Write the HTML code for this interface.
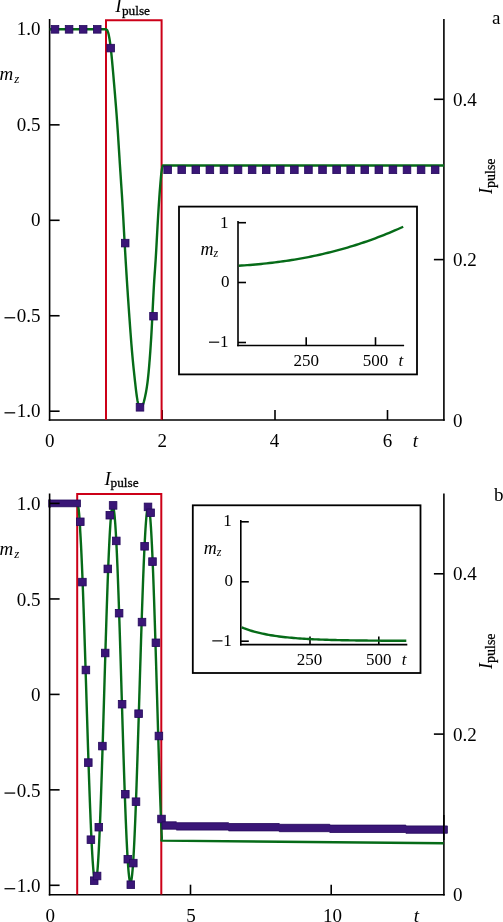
<!DOCTYPE html>
<html><head><meta charset="utf-8"><style>
html,body{margin:0;padding:0;background:#fff;width:503px;height:922px;overflow:hidden}
svg{display:block;will-change:transform}
text{font-family:"Liberation Serif",serif;fill:#000}
</style></head><body>
<svg width="503" height="922" viewBox="0 0 503 922">
<line x1="49.60" y1="19.00" x2="49.60" y2="420.80" stroke="#000" stroke-width="1.6"/>
<line x1="48.80" y1="420.00" x2="444.70" y2="420.00" stroke="#000" stroke-width="1.6"/>
<line x1="443.90" y1="19.00" x2="443.90" y2="420.80" stroke="#000" stroke-width="1.6"/>
<line x1="49.60" y1="29.40" x2="59.60" y2="29.40" stroke="#000" stroke-width="1.6"/>
<line x1="49.60" y1="124.85" x2="59.60" y2="124.85" stroke="#000" stroke-width="1.6"/>
<line x1="49.60" y1="220.30" x2="59.60" y2="220.30" stroke="#000" stroke-width="1.6"/>
<line x1="49.60" y1="315.75" x2="59.60" y2="315.75" stroke="#000" stroke-width="1.6"/>
<line x1="49.60" y1="411.20" x2="59.60" y2="411.20" stroke="#000" stroke-width="1.6"/>
<line x1="433.90" y1="99.30" x2="443.90" y2="99.30" stroke="#000" stroke-width="1.6"/>
<line x1="433.90" y1="259.60" x2="443.90" y2="259.60" stroke="#000" stroke-width="1.6"/>
<line x1="162.20" y1="410.00" x2="162.20" y2="420.00" stroke="#000" stroke-width="1.6"/>
<line x1="275.00" y1="410.00" x2="275.00" y2="420.00" stroke="#000" stroke-width="1.6"/>
<line x1="387.50" y1="410.00" x2="387.50" y2="420.00" stroke="#000" stroke-width="1.6"/>
<path d="M106,419.8 L106,20.3 L161.6,20.3 L161.6,419.8" fill="none" stroke="#cc0018" stroke-width="2"/>
<path d="M49.60,29.20 L105.50,29.20 L106.00,29.40 L106.28,29.54 L106.56,29.67 L106.85,29.88 L107.13,30.21 L107.41,30.70 L107.69,31.31 L107.97,32.06 L108.26,32.96 L108.54,34.02 L108.82,35.24 L109.10,36.64 L109.38,38.20 L109.66,39.91 L109.95,41.79 L110.23,43.82 L110.51,46.01 L110.79,48.35 L111.07,50.85 L111.36,53.51 L111.64,56.32 L111.92,59.26 L112.20,62.29 L112.48,65.39 L112.77,68.55 L113.05,71.76 L113.33,75.02 L113.61,78.31 L113.89,81.63 L114.18,84.94 L114.46,88.23 L114.74,91.58 L115.02,94.97 L115.30,98.39 L115.58,101.85 L115.87,105.34 L116.15,108.89 L116.43,112.51 L116.71,116.25 L116.99,120.09 L117.28,124.03 L117.56,128.09 L117.84,132.25 L118.12,136.52 L118.40,140.89 L118.69,145.34 L118.97,149.83 L119.25,154.32 L119.53,158.78 L119.81,163.21 L120.10,167.59 L120.38,171.92 L120.66,176.20 L120.94,180.43 L121.22,184.61 L121.51,188.74 L121.79,193.00 L122.07,197.42 L122.35,202.00 L122.63,206.74 L122.91,211.63 L123.20,216.68 L123.48,221.78 L123.76,226.91 L124.04,232.10 L124.32,237.21 L124.61,242.25 L124.89,247.20 L125.17,252.07 L125.45,256.86 L125.73,261.57 L126.02,266.24 L126.30,270.85 L126.58,275.39 L126.86,279.87 L127.14,284.28 L127.43,288.62 L127.71,292.89 L127.99,297.08 L128.27,301.20 L128.55,305.25 L128.83,309.29 L129.12,313.29 L129.40,317.27 L129.68,321.21 L129.96,325.10 L130.24,328.96 L130.53,332.77 L130.81,336.53 L131.09,340.19 L131.37,343.75 L131.65,347.21 L131.94,350.57 L132.22,353.82 L132.50,356.96 L132.78,360.00 L133.06,362.94 L133.35,365.78 L133.63,368.54 L133.91,371.22 L134.19,373.84 L134.47,376.46 L134.75,379.06 L135.04,381.63 L135.32,384.16 L135.60,386.64 L135.88,389.05 L136.16,391.39 L136.45,393.62 L136.73,395.73 L137.01,397.66 L137.29,399.43 L137.57,401.04 L137.86,402.48 L138.14,403.76 L138.42,404.87 L138.70,405.83 L138.98,406.64 L139.27,407.28 L139.55,407.76 L139.83,408.09 L140.11,408.27 L140.39,408.34 L140.67,408.28 L140.96,408.13 L141.24,407.88 L141.52,407.55 L141.80,407.15 L142.08,406.67 L142.37,406.10 L142.65,405.45 L142.93,404.72 L143.21,403.90 L143.49,403.01 L143.78,402.05 L144.06,401.01 L144.34,399.90 L144.62,398.73 L144.90,397.49 L145.19,396.19 L145.47,394.82 L145.75,393.40 L146.03,391.91 L146.31,390.35 L146.59,388.70 L146.88,386.90 L147.16,384.94 L147.44,382.83 L147.72,380.54 L148.00,378.07 L148.29,375.42 L148.57,372.57 L148.85,369.51 L149.13,366.29 L149.41,362.92 L149.70,359.39 L149.98,355.68 L150.26,351.79 L150.54,347.73 L150.82,343.49 L151.11,339.06 L151.39,334.36 L151.67,329.33 L151.95,324.00 L152.23,318.41 L152.52,312.60 L152.80,306.90 L153.08,301.32 L153.36,295.88 L153.64,290.60 L153.92,285.60 L154.21,280.94 L154.49,276.63 L154.77,272.63 L155.05,268.73 L155.33,264.61 L155.62,260.25 L155.90,255.67 L156.18,250.86 L156.46,245.81 L156.74,240.64 L157.03,235.41 L157.31,230.19 L157.59,225.14 L157.87,220.25 L158.15,215.45 L158.44,210.83 L158.72,206.39 L159.00,202.13 L159.28,198.09 L159.56,194.18 L159.84,190.42 L160.13,186.81 L160.41,183.33 L160.69,180.00 L160.97,176.81 L161.25,174.09 L161.54,171.82 L161.82,169.88 L162.10,168.27 L162.80,165.50 L444.00,165.50" fill="none" stroke="#066b18" stroke-width="2.4" stroke-linejoin="round" stroke-linecap="butt" />
<rect x="51.20" y="25.55" width="7.6" height="7.6" fill="#3a1677" stroke="#24095c" stroke-width="0.8"/>
<rect x="65.28" y="25.55" width="7.6" height="7.6" fill="#3a1677" stroke="#24095c" stroke-width="0.8"/>
<rect x="79.36" y="25.55" width="7.6" height="7.6" fill="#3a1677" stroke="#24095c" stroke-width="0.8"/>
<rect x="93.44" y="25.55" width="7.6" height="7.6" fill="#3a1677" stroke="#24095c" stroke-width="0.8"/>
<rect x="106.90" y="44.30" width="7.6" height="7.6" fill="#3a1677" stroke="#24095c" stroke-width="0.8"/>
<rect x="121.40" y="239.30" width="7.6" height="7.6" fill="#3a1677" stroke="#24095c" stroke-width="0.8"/>
<rect x="136.20" y="403.50" width="7.6" height="7.6" fill="#3a1677" stroke="#24095c" stroke-width="0.8"/>
<rect x="149.70" y="312.40" width="7.6" height="7.6" fill="#3a1677" stroke="#24095c" stroke-width="0.8"/>
<rect x="163.84" y="166.00" width="7.6" height="7.6" fill="#3a1677" stroke="#24095c" stroke-width="0.8"/>
<rect x="177.92" y="166.00" width="7.6" height="7.6" fill="#3a1677" stroke="#24095c" stroke-width="0.8"/>
<rect x="192.00" y="166.00" width="7.6" height="7.6" fill="#3a1677" stroke="#24095c" stroke-width="0.8"/>
<rect x="206.08" y="166.00" width="7.6" height="7.6" fill="#3a1677" stroke="#24095c" stroke-width="0.8"/>
<rect x="220.16" y="166.00" width="7.6" height="7.6" fill="#3a1677" stroke="#24095c" stroke-width="0.8"/>
<rect x="234.24" y="166.00" width="7.6" height="7.6" fill="#3a1677" stroke="#24095c" stroke-width="0.8"/>
<rect x="248.32" y="166.00" width="7.6" height="7.6" fill="#3a1677" stroke="#24095c" stroke-width="0.8"/>
<rect x="262.40" y="166.00" width="7.6" height="7.6" fill="#3a1677" stroke="#24095c" stroke-width="0.8"/>
<rect x="276.48" y="166.00" width="7.6" height="7.6" fill="#3a1677" stroke="#24095c" stroke-width="0.8"/>
<rect x="290.56" y="166.00" width="7.6" height="7.6" fill="#3a1677" stroke="#24095c" stroke-width="0.8"/>
<rect x="304.64" y="166.00" width="7.6" height="7.6" fill="#3a1677" stroke="#24095c" stroke-width="0.8"/>
<rect x="318.72" y="166.00" width="7.6" height="7.6" fill="#3a1677" stroke="#24095c" stroke-width="0.8"/>
<rect x="332.80" y="166.00" width="7.6" height="7.6" fill="#3a1677" stroke="#24095c" stroke-width="0.8"/>
<rect x="346.88" y="166.00" width="7.6" height="7.6" fill="#3a1677" stroke="#24095c" stroke-width="0.8"/>
<rect x="360.96" y="166.00" width="7.6" height="7.6" fill="#3a1677" stroke="#24095c" stroke-width="0.8"/>
<rect x="375.04" y="166.00" width="7.6" height="7.6" fill="#3a1677" stroke="#24095c" stroke-width="0.8"/>
<rect x="389.12" y="166.00" width="7.6" height="7.6" fill="#3a1677" stroke="#24095c" stroke-width="0.8"/>
<rect x="403.20" y="166.00" width="7.6" height="7.6" fill="#3a1677" stroke="#24095c" stroke-width="0.8"/>
<rect x="417.28" y="166.00" width="7.6" height="7.6" fill="#3a1677" stroke="#24095c" stroke-width="0.8"/>
<rect x="431.36" y="166.00" width="7.6" height="7.6" fill="#3a1677" stroke="#24095c" stroke-width="0.8"/>
<rect x="179.0" y="206.6" width="238.0" height="167.8" fill="#fff" stroke="#000" stroke-width="1.8"/>
<line x1="238.00" y1="221.00" x2="238.00" y2="346.30" stroke="#000" stroke-width="1.6"/>
<line x1="237.20" y1="345.50" x2="404.10" y2="345.50" stroke="#000" stroke-width="1.6"/>
<line x1="238.00" y1="222.70" x2="246.00" y2="222.70" stroke="#000" stroke-width="1.6"/>
<line x1="238.00" y1="282.50" x2="246.00" y2="282.50" stroke="#000" stroke-width="1.6"/>
<line x1="238.00" y1="342.50" x2="246.00" y2="342.50" stroke="#000" stroke-width="1.6"/>
<line x1="306.20" y1="337.20" x2="306.20" y2="345.50" stroke="#000" stroke-width="1.6"/>
<line x1="375.50" y1="337.20" x2="375.50" y2="345.50" stroke="#000" stroke-width="1.6"/>
<path d="M238.80,265.71 L241.59,265.53 L244.37,265.35 L247.16,265.15 L249.95,264.94 L252.73,264.71 L255.52,264.47 L258.31,264.22 L261.09,263.95 L263.88,263.67 L266.66,263.37 L269.45,263.06 L272.24,262.74 L275.02,262.40 L277.81,262.04 L280.60,261.67 L283.38,261.28 L286.17,260.88 L288.96,260.46 L291.74,260.03 L294.53,259.57 L297.32,259.10 L300.10,258.62 L302.89,258.12 L305.67,257.59 L308.46,257.06 L311.25,256.50 L314.03,255.93 L316.82,255.33 L319.61,254.72 L322.39,254.09 L325.18,253.44 L327.97,252.78 L330.75,252.09 L333.54,251.38 L336.33,250.66 L339.11,249.91 L341.90,249.14 L344.68,248.36 L347.47,247.55 L350.26,246.72 L353.04,245.87 L355.83,245.00 L358.62,244.11 L361.40,243.19 L364.19,242.25 L366.98,241.30 L369.76,240.32 L372.55,239.31 L375.34,238.29 L378.12,237.24 L380.91,236.17 L383.69,235.07 L386.48,233.95 L389.27,232.81 L392.05,231.64 L394.84,230.45 L397.63,229.23 L400.41,227.99 L403.20,226.73" fill="none" stroke="#066b18" stroke-width="2.4" stroke-linejoin="round" stroke-linecap="butt" />
<line x1="49.60" y1="493.50" x2="49.60" y2="895.50" stroke="#000" stroke-width="1.6"/>
<line x1="48.80" y1="894.70" x2="444.70" y2="894.70" stroke="#000" stroke-width="1.6"/>
<line x1="443.90" y1="493.50" x2="443.90" y2="895.50" stroke="#000" stroke-width="1.6"/>
<line x1="49.60" y1="503.50" x2="59.60" y2="503.50" stroke="#000" stroke-width="1.6"/>
<line x1="49.60" y1="598.95" x2="59.60" y2="598.95" stroke="#000" stroke-width="1.6"/>
<line x1="49.60" y1="694.40" x2="59.60" y2="694.40" stroke="#000" stroke-width="1.6"/>
<line x1="49.60" y1="789.85" x2="59.60" y2="789.85" stroke="#000" stroke-width="1.6"/>
<line x1="49.60" y1="885.30" x2="59.60" y2="885.30" stroke="#000" stroke-width="1.6"/>
<line x1="433.90" y1="573.80" x2="443.90" y2="573.80" stroke="#000" stroke-width="1.6"/>
<line x1="433.90" y1="734.10" x2="443.90" y2="734.10" stroke="#000" stroke-width="1.6"/>
<line x1="190.50" y1="884.70" x2="190.50" y2="894.70" stroke="#000" stroke-width="1.6"/>
<line x1="331.20" y1="884.70" x2="331.20" y2="894.70" stroke="#000" stroke-width="1.6"/>
<path d="M77.2,894.6 L77.2,493.9 L161.3,493.9 L161.3,894.6" fill="none" stroke="#cc0018" stroke-width="2"/>
<path d="M49.60,503.50 L77.20,503.50 L77.20,503.50 L77.41,503.63 L77.62,504.01 L77.84,504.64 L78.05,505.52 L78.26,506.65 L78.47,508.03 L78.68,509.66 L78.90,511.54 L79.11,513.65 L79.32,516.01 L79.53,518.60 L79.74,521.42 L79.96,524.48 L80.17,530.25 L80.38,533.70 L80.59,537.36 L80.80,541.23 L81.02,545.30 L81.23,549.57 L81.44,554.03 L81.65,558.67 L81.86,563.50 L82.08,568.50 L82.29,573.67 L82.50,578.99 L82.71,584.47 L82.92,590.10 L83.14,595.86 L83.35,601.75 L83.56,607.77 L83.77,613.90 L83.98,620.14 L84.20,626.47 L84.41,632.90 L84.62,639.40 L84.83,645.98 L85.05,652.63 L85.26,659.33 L85.47,666.07 L85.68,672.86 L85.89,679.67 L86.11,686.50 L86.32,693.34 L86.53,700.19 L86.74,707.02 L86.95,713.84 L87.17,720.64 L87.38,727.39 L87.59,734.11 L87.80,740.77 L88.01,747.37 L88.23,753.90 L88.44,760.36 L88.65,766.72 L88.86,772.99 L89.07,779.15 L89.29,785.21 L89.50,791.14 L89.71,796.94 L89.92,802.61 L90.13,808.13 L90.35,813.51 L90.56,818.72 L90.77,823.78 L90.98,828.66 L91.19,833.36 L91.41,837.88 L91.62,842.20 L91.83,846.34 L92.04,850.27 L92.25,853.99 L92.47,857.50 L92.68,860.80 L92.89,863.88 L93.10,866.73 L93.31,869.35 L93.53,871.75 L93.74,873.90 L93.95,875.82 L94.16,877.50 L94.37,878.94 L94.59,880.13 L94.80,881.07 L95.01,881.77 L95.22,882.22 L95.43,882.42 L95.65,882.37 L95.86,882.04 L96.07,881.43 L96.28,880.54 L96.49,879.38 L96.71,877.94 L96.92,876.23 L97.13,874.25 L97.34,872.01 L97.55,869.50 L97.77,866.73 L97.98,863.70 L98.19,860.43 L98.40,856.91 L98.62,853.15 L98.83,849.15 L99.04,844.92 L99.25,840.47 L99.46,835.81 L99.68,830.93 L99.89,825.85 L100.10,820.58 L100.31,815.12 L100.52,809.48 L100.74,803.67 L100.95,797.70 L101.16,791.57 L101.37,785.30 L101.58,778.90 L101.80,772.37 L102.01,765.73 L102.22,758.98 L102.43,752.13 L102.64,745.20 L102.86,738.19 L103.07,731.12 L103.28,723.99 L103.49,716.82 L103.70,709.62 L103.92,702.40 L104.13,695.16 L104.34,687.92 L104.55,680.69 L104.76,673.48 L104.98,666.30 L105.19,659.17 L105.40,652.08 L105.61,645.06 L105.82,638.11 L106.04,631.25 L106.25,624.48 L106.46,617.81 L106.67,611.26 L106.88,604.83 L107.10,598.53 L107.31,592.37 L107.52,586.37 L107.73,580.52 L107.94,574.85 L108.16,569.35 L108.37,564.04 L108.58,558.92 L108.79,554.00 L109.00,549.29 L109.22,544.79 L109.43,540.52 L109.64,536.47 L109.85,532.66 L110.06,529.09 L110.28,525.76 L110.49,522.68 L110.70,519.86 L110.91,517.30 L111.12,515.00 L111.34,512.96 L111.55,511.20 L111.76,509.70 L111.97,508.48 L112.18,507.54 L112.40,506.87 L112.61,506.48 L112.82,506.36 L113.03,506.52 L113.25,506.95 L113.46,507.64 L113.67,508.60 L113.88,509.82 L114.09,511.30 L114.31,513.03 L114.52,515.03 L114.73,517.28 L114.94,519.78 L115.15,522.53 L115.37,525.52 L115.58,528.75 L115.79,532.22 L116.00,535.91 L116.21,539.83 L116.43,543.97 L116.64,548.32 L116.85,552.88 L117.06,557.64 L117.27,562.59 L117.49,567.73 L117.70,573.05 L117.91,578.54 L118.12,584.19 L118.33,590.00 L118.55,595.96 L118.76,602.06 L118.97,608.29 L119.18,614.64 L119.39,621.10 L119.61,627.67 L119.82,634.33 L120.03,641.08 L120.24,647.90 L120.45,654.79 L120.67,661.73 L120.88,668.72 L121.09,675.75 L121.30,682.80 L121.51,689.87 L121.73,696.95 L121.94,704.02 L122.15,711.08 L122.36,718.11 L122.57,725.11 L122.79,732.07 L123.00,738.98 L123.21,745.82 L123.42,752.59 L123.63,759.27 L123.85,765.87 L124.06,772.36 L124.27,778.74 L124.48,785.01 L124.69,791.14 L124.91,797.14 L125.12,802.99 L125.33,808.69 L125.54,814.23 L125.75,819.60 L125.97,824.79 L126.18,829.79 L126.39,834.61 L126.60,839.22 L126.82,843.63 L127.03,847.83 L127.24,851.81 L127.45,855.57 L127.66,859.10 L127.88,862.40 L128.09,865.46 L128.30,868.27 L128.51,870.84 L128.72,873.16 L128.94,875.23 L129.15,877.04 L129.36,878.60 L129.57,879.89 L129.78,880.92 L130.00,881.68 L130.21,882.18 L130.42,882.42 L130.63,882.39 L130.84,882.09 L131.06,881.53 L131.27,880.71 L131.48,879.63 L131.69,878.29 L131.90,876.69 L132.12,874.84 L132.33,872.74 L132.54,870.38 L132.75,867.78 L132.96,864.94 L133.18,861.85 L133.39,858.53 L133.60,854.99 L133.81,851.21 L134.02,847.22 L134.24,843.02 L134.45,838.60 L134.66,833.99 L134.87,829.18 L135.08,824.18 L135.30,818.99 L135.51,813.64 L135.72,808.11 L135.93,802.43 L136.14,796.60 L136.36,790.62 L136.57,784.51 L136.78,778.27 L136.99,771.92 L137.20,765.45 L137.42,758.89 L137.63,752.24 L137.84,745.50 L138.05,738.70 L138.26,731.83 L138.48,724.91 L138.69,717.94 L138.90,710.95 L139.11,703.93 L139.32,696.90 L139.54,689.86 L139.75,682.83 L139.96,675.82 L140.17,668.83 L140.38,661.88 L140.60,654.97 L140.81,648.12 L141.02,641.33 L141.23,634.62 L141.45,627.99 L141.66,621.46 L141.87,615.02 L142.08,608.70 L142.29,602.50 L142.51,596.43 L142.72,590.49 L142.93,584.70 L143.14,579.06 L143.35,573.59 L143.57,568.28 L143.78,563.15 L143.99,558.21 L144.20,553.45 L144.41,548.89 L144.63,544.54 L144.84,540.39 L145.05,536.47 L145.26,532.76 L145.47,529.28 L145.69,526.03 L145.90,523.01 L146.11,520.24 L146.32,517.71 L146.53,515.43 L146.75,513.39 L146.96,511.61 L147.17,510.09 L147.38,508.83 L147.59,507.82 L147.81,507.08 L148.02,506.60 L148.23,506.38 L148.44,506.43 L148.65,506.75 L148.87,507.35 L149.08,508.22 L149.29,509.37 L149.50,510.79 L149.71,512.47 L149.93,514.43 L150.14,516.65 L150.35,519.13 L150.56,521.87 L150.77,524.86 L150.99,528.10 L151.20,531.58 L151.41,535.31 L151.62,539.26 L151.83,543.45 L152.05,547.85 L152.26,552.48 L152.47,557.31 L152.68,562.34 L152.89,567.56 L153.11,572.97 L153.32,578.56 L153.53,584.32 L153.74,590.25 L153.95,596.32 L154.17,602.54 L154.38,608.89 L154.59,615.37 L154.80,621.97 L155.02,628.67 L155.23,635.47 L155.44,642.35 L155.65,649.31 L155.86,656.34 L156.08,663.42 L156.29,670.55 L156.50,677.71 L156.71,684.90 L156.92,692.10 L157.14,699.31 L157.35,706.51 L157.56,713.69 L157.77,720.84 L157.98,727.95 L158.20,735.02 L158.41,742.02 L158.62,748.96 L158.83,755.81 L159.04,762.57 L159.26,769.24 L159.47,775.79 L159.68,782.23 L159.89,788.53 L160.10,794.70 L160.32,800.72 L160.53,806.58 L160.74,812.28 L160.95,817.81 L161.16,823.15 L161.38,828.31 L161.59,833.27 L161.80,838.03 L161.50,840.60 L443.60,843.20" fill="none" stroke="#066b18" stroke-width="2.4" stroke-linejoin="round" stroke-linecap="butt" />
<rect x="48.8" y="500.0" width="31.6" height="6.8" fill="#3a1677" stroke="#24095c" stroke-width="0.8"/>
<line x1="49.60" y1="499.00" x2="49.60" y2="508.00" stroke="#000" stroke-width="1.6"/>
<line x1="49.60" y1="503.40" x2="59.60" y2="503.40" stroke="#000" stroke-width="1.6"/>
<rect x="76.50" y="518.00" width="7.6" height="7.6" fill="#3a1677" stroke="#24095c" stroke-width="0.8"/>
<rect x="78.60" y="578.30" width="7.6" height="7.6" fill="#3a1677" stroke="#24095c" stroke-width="0.8"/>
<rect x="82.10" y="666.20" width="7.6" height="7.6" fill="#3a1677" stroke="#24095c" stroke-width="0.8"/>
<rect x="84.50" y="758.80" width="7.6" height="7.6" fill="#3a1677" stroke="#24095c" stroke-width="0.8"/>
<rect x="87.10" y="835.90" width="7.6" height="7.6" fill="#3a1677" stroke="#24095c" stroke-width="0.8"/>
<rect x="90.40" y="876.90" width="7.6" height="7.6" fill="#3a1677" stroke="#24095c" stroke-width="0.8"/>
<rect x="93.30" y="872.20" width="7.6" height="7.6" fill="#3a1677" stroke="#24095c" stroke-width="0.8"/>
<rect x="95.00" y="823.40" width="7.6" height="7.6" fill="#3a1677" stroke="#24095c" stroke-width="0.8"/>
<rect x="98.60" y="742.30" width="7.6" height="7.6" fill="#3a1677" stroke="#24095c" stroke-width="0.8"/>
<rect x="101.40" y="649.20" width="7.6" height="7.6" fill="#3a1677" stroke="#24095c" stroke-width="0.8"/>
<rect x="104.00" y="565.10" width="7.6" height="7.6" fill="#3a1677" stroke="#24095c" stroke-width="0.8"/>
<rect x="106.00" y="511.40" width="7.6" height="7.6" fill="#3a1677" stroke="#24095c" stroke-width="0.8"/>
<rect x="109.30" y="501.60" width="7.6" height="7.6" fill="#3a1677" stroke="#24095c" stroke-width="0.8"/>
<rect x="112.50" y="537.10" width="7.6" height="7.6" fill="#3a1677" stroke="#24095c" stroke-width="0.8"/>
<rect x="115.30" y="609.40" width="7.6" height="7.6" fill="#3a1677" stroke="#24095c" stroke-width="0.8"/>
<rect x="118.30" y="700.40" width="7.6" height="7.6" fill="#3a1677" stroke="#24095c" stroke-width="0.8"/>
<rect x="121.50" y="790.40" width="7.6" height="7.6" fill="#3a1677" stroke="#24095c" stroke-width="0.8"/>
<rect x="124.00" y="855.40" width="7.6" height="7.6" fill="#3a1677" stroke="#24095c" stroke-width="0.8"/>
<rect x="127.00" y="880.90" width="7.6" height="7.6" fill="#3a1677" stroke="#24095c" stroke-width="0.8"/>
<rect x="129.50" y="859.30" width="7.6" height="7.6" fill="#3a1677" stroke="#24095c" stroke-width="0.8"/>
<rect x="132.20" y="797.90" width="7.6" height="7.6" fill="#3a1677" stroke="#24095c" stroke-width="0.8"/>
<rect x="134.80" y="709.90" width="7.6" height="7.6" fill="#3a1677" stroke="#24095c" stroke-width="0.8"/>
<rect x="138.20" y="618.30" width="7.6" height="7.6" fill="#3a1677" stroke="#24095c" stroke-width="0.8"/>
<rect x="140.80" y="542.50" width="7.6" height="7.6" fill="#3a1677" stroke="#24095c" stroke-width="0.8"/>
<rect x="144.20" y="503.10" width="7.6" height="7.6" fill="#3a1677" stroke="#24095c" stroke-width="0.8"/>
<rect x="146.80" y="509.00" width="7.6" height="7.6" fill="#3a1677" stroke="#24095c" stroke-width="0.8"/>
<rect x="148.70" y="557.80" width="7.6" height="7.6" fill="#3a1677" stroke="#24095c" stroke-width="0.8"/>
<rect x="152.10" y="639.00" width="7.6" height="7.6" fill="#3a1677" stroke="#24095c" stroke-width="0.8"/>
<rect x="155.10" y="732.20" width="7.6" height="7.6" fill="#3a1677" stroke="#24095c" stroke-width="0.8"/>
<rect x="157.70" y="815.20" width="7.6" height="7.6" fill="#3a1677" stroke="#24095c" stroke-width="0.8"/>
<path d="M161.9,821.8 L161.9,821.8 L176.4,821.8 L176.4,822.7 L228.6,822.7 L228.6,823.5 L279.3,823.5 L279.3,824.3 L329.8,824.3 L329.8,825.1 L405.9,825.1 L405.9,825.9 L447.4,825.9 L447.4,833.3 L405.9,833.3 L405.9,832.5 L329.8,832.5 L329.8,831.7 L279.3,831.7 L279.3,830.9 L228.6,830.9 L228.6,830.1 L176.4,830.1 L176.4,829.2 L161.9,829.2 Z" fill="#3a1677" stroke="#24095c" stroke-width="0.8"/>
<line x1="443.80" y1="815.00" x2="443.80" y2="840.00" stroke="#000" stroke-width="1.6"/>
<rect x="192.8" y="505.3" width="227.7" height="167.7" fill="#fff" stroke="#000" stroke-width="1.8"/>
<line x1="240.80" y1="520.00" x2="240.80" y2="645.40" stroke="#000" stroke-width="1.6"/>
<line x1="240.00" y1="644.60" x2="407.30" y2="644.60" stroke="#000" stroke-width="1.6"/>
<line x1="240.80" y1="521.80" x2="248.80" y2="521.80" stroke="#000" stroke-width="1.6"/>
<line x1="240.80" y1="581.80" x2="248.80" y2="581.80" stroke="#000" stroke-width="1.6"/>
<line x1="240.80" y1="641.20" x2="248.80" y2="641.20" stroke="#000" stroke-width="1.6"/>
<line x1="310.00" y1="636.40" x2="310.00" y2="644.60" stroke="#000" stroke-width="1.6"/>
<line x1="378.80" y1="636.40" x2="378.80" y2="644.60" stroke="#000" stroke-width="1.6"/>
<path d="M241.60,627.44 L243.68,628.24 L245.77,628.99 L247.85,629.70 L249.94,630.37 L252.02,630.99 L254.11,631.58 L256.19,632.14 L258.28,632.66 L260.36,633.15 L262.45,633.61 L264.53,634.04 L266.62,634.45 L268.70,634.83 L270.79,635.20 L272.87,635.53 L274.96,635.85 L277.04,636.15 L279.13,636.44 L281.21,636.70 L283.30,636.95 L285.38,637.19 L287.47,637.41 L289.55,637.61 L291.64,637.81 L293.72,637.99 L295.81,638.17 L297.89,638.33 L299.97,638.48 L302.06,638.63 L304.14,638.76 L306.23,638.89 L308.31,639.01 L310.40,639.12 L312.48,639.23 L314.57,639.33 L316.65,639.42 L318.74,639.51 L320.82,639.59 L322.91,639.67 L324.99,639.74 L327.08,639.81 L329.16,639.88 L331.25,639.94 L333.33,639.99 L335.42,640.05 L337.50,640.10 L339.59,640.15 L341.67,640.19 L343.76,640.23 L345.84,640.27 L347.93,640.31 L350.01,640.34 L352.09,640.38 L354.18,640.41 L356.26,640.44 L358.35,640.47 L360.43,640.49 L362.52,640.52 L364.60,640.54 L366.69,640.56 L368.77,640.58 L370.86,640.60 L372.94,640.62 L375.03,640.63 L377.11,640.65 L379.20,640.66 L381.28,640.68 L383.37,640.69 L385.45,640.70 L387.54,640.72 L389.62,640.73 L391.71,640.74 L393.79,640.75 L395.88,640.76 L397.96,640.76 L400.05,640.77 L402.13,640.78 L404.22,640.79 L406.30,640.79" fill="none" stroke="#066b18" stroke-width="2.4" stroke-linejoin="round" stroke-linecap="butt" />
<text x="40.60" y="34.90" font-size="19" text-anchor="end" >1.0</text>
<text x="40.60" y="509.50" font-size="19" text-anchor="end" >1.0</text>
<text x="40.60" y="131.05" font-size="19" text-anchor="end" >0.5</text>
<text x="40.60" y="605.75" font-size="19" text-anchor="end" >0.5</text>
<text x="40.60" y="225.90" font-size="19" text-anchor="end" >0</text>
<text x="40.60" y="701.20" font-size="19" text-anchor="end" >0</text>
<rect x="4.5" y="317.15" width="10.7" height="1.25" fill="#000"/>
<text x="40.60" y="321.95" font-size="19" text-anchor="end" >0.5</text>
<rect x="4.5" y="792.45" width="10.7" height="1.25" fill="#000"/>
<text x="40.60" y="796.65" font-size="19" text-anchor="end" >0.5</text>
<rect x="4.5" y="412.20" width="10.7" height="1.25" fill="#000"/>
<text x="40.60" y="417.00" font-size="19" text-anchor="end" >1.0</text>
<rect x="4.5" y="888.10" width="10.7" height="1.25" fill="#000"/>
<text x="40.60" y="892.30" font-size="19" text-anchor="end" >1.0</text>
<text x="49.80" y="447.00" font-size="19" text-anchor="middle" >0</text>
<text x="162.20" y="447.00" font-size="19" text-anchor="middle" >2</text>
<text x="274.60" y="447.00" font-size="19" text-anchor="middle" >4</text>
<text x="387.50" y="447.00" font-size="19" text-anchor="middle" >6</text>
<text x="415.30" y="447.00" font-size="19" text-anchor="middle" font-style="italic" >t</text>
<text x="50.30" y="921.50" font-size="19" text-anchor="middle" >0</text>
<text x="190.90" y="921.50" font-size="19" text-anchor="middle" >5</text>
<text x="332.50" y="921.50" font-size="19" text-anchor="middle" >10</text>
<text x="416.50" y="921.50" font-size="19" text-anchor="middle" font-style="italic" >t</text>
<text x="453.00" y="105.80" font-size="19" text-anchor="start" >0.4</text>
<text x="453.00" y="266.20" font-size="19" text-anchor="start" >0.2</text>
<text x="453.00" y="426.50" font-size="19" text-anchor="start" >0</text>
<text x="453.00" y="580.30" font-size="19" text-anchor="start" >0.4</text>
<text x="453.00" y="740.70" font-size="19" text-anchor="start" >0.2</text>
<text x="453.00" y="901.00" font-size="19" text-anchor="start" >0</text>
<text x="-0.50" y="80.20" font-size="19" text-anchor="start" font-style="italic" >m<tspan font-size="13" dx="1" dy="2.8">z</tspan></text>
<text x="-0.50" y="555.20" font-size="19" text-anchor="start" font-style="italic" >m<tspan font-size="13" dx="1" dy="2.8">z</tspan></text>
<text x="115.20" y="12.00" font-size="19" text-anchor="start" font-style="italic" >I<tspan font-style="normal" font-size="13.3" dx="0.4" dy="2.9" stroke="#000" stroke-width="0.3">pulse</tspan></text>
<text x="104.40" y="484.50" font-size="19" text-anchor="start" font-style="italic" >I<tspan font-style="normal" font-size="13.3" dx="-0.2" dy="2.7" stroke="#000" stroke-width="0.3">pulse</tspan></text>
<text transform="translate(491.5,194.0) rotate(-90)" font-size="18" font-style="italic">I<tspan font-style="normal" font-size="14" dy="3" stroke="#000" stroke-width="0.25">pulse</tspan></text>
<text transform="translate(491.5,669.0) rotate(-90)" font-size="18" font-style="italic">I<tspan font-style="normal" font-size="14" dy="3" stroke="#000" stroke-width="0.25">pulse</tspan></text>
<text x="492.00" y="24.40" font-size="19" text-anchor="start" >a</text>
<text x="494.00" y="501.20" font-size="19" text-anchor="start" >b</text>
<text x="228.40" y="227.60" font-size="17" text-anchor="end" >1</text>
<text x="229.60" y="287.40" font-size="17" text-anchor="end" >0</text>
<text x="228.40" y="347.40" font-size="17" text-anchor="end" >1</text>
<rect x="209.00" y="341.60" width="10.2" height="1.15" fill="#000"/>
<text x="200.50" y="255.00" font-size="18" text-anchor="start" font-style="italic" >m<tspan font-size="12" dy="2">z</tspan></text>
<text x="306.20" y="365.80" font-size="17" text-anchor="middle" >250</text>
<text x="375.50" y="365.80" font-size="17" text-anchor="middle" >500</text>
<text x="400.80" y="365.80" font-size="17" text-anchor="middle" font-style="italic" >t</text>
<text x="231.70" y="526.30" font-size="17" text-anchor="end" >1</text>
<text x="232.90" y="586.10" font-size="17" text-anchor="end" >0</text>
<text x="231.70" y="646.10" font-size="17" text-anchor="end" >1</text>
<rect x="212.30" y="640.30" width="10.2" height="1.15" fill="#000"/>
<text x="203.80" y="553.70" font-size="18" text-anchor="start" font-style="italic" >m<tspan font-size="12" dy="2">z</tspan></text>
<text x="309.50" y="664.50" font-size="17" text-anchor="middle" >250</text>
<text x="378.80" y="664.50" font-size="17" text-anchor="middle" >500</text>
<text x="404.10" y="664.50" font-size="17" text-anchor="middle" font-style="italic" >t</text>
</svg>
</body></html>
